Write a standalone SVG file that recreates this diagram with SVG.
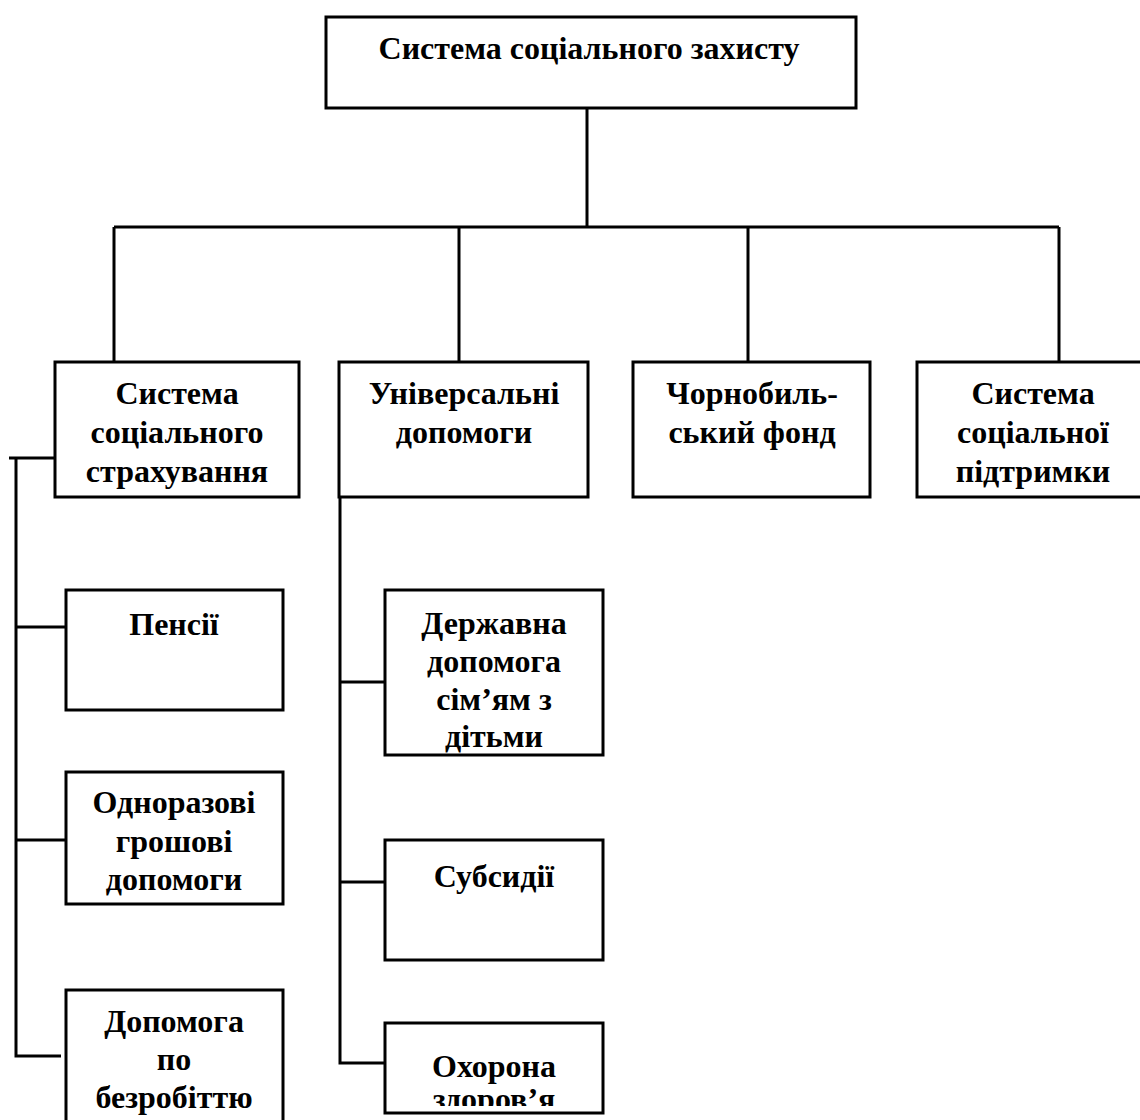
<svg xmlns="http://www.w3.org/2000/svg" width="1140" height="1120" viewBox="0 0 1140 1120">
<style>
.box{fill:#fff;stroke:#000;stroke-width:3}
.ln{stroke:#000;stroke-width:3;fill:none}
.t{font-family:"Liberation Serif","Times New Roman",serif;font-weight:bold;font-size:32px;text-anchor:middle;fill:#000}
</style>
<defs>
<clipPath id="clipOh"><rect x="385" y="1023" width="218" height="83"/></clipPath>
</defs>
<rect width="1140" height="1120" fill="#fff"/>
<g id="connectors">
<path class="ln" d="M587 108V227M114 227H1059M114 227V362M459 227V362M748 227V362M1059 227V362"/>
<path class="ln" d="M9 458H55M16 458V1056H61M16 627H66M16 840H66"/>
<path class="ln" d="M340 497V1063H385M340 682H385M340 882H385"/>
</g>
<g id="n-root">
<rect class="box" x="326" y="17" width="530" height="91"/>
<text class="t" x="589" y="59">Система соціального захисту</text>
</g>
<g id="n-insurance">
<rect class="box" x="55" y="362" width="244" height="135"/>
<text class="t" x="177" y="404">Система</text>
<text class="t" x="177" y="443">соціального</text>
<text class="t" x="177" y="482">страхування</text>
</g>
<g id="n-universal">
<rect class="box" x="339" y="362" width="249" height="135"/>
<text class="t" x="464" y="404">Універсальні</text>
<text class="t" x="464" y="443">допомоги</text>
</g>
<g id="n-chornobyl">
<rect class="box" x="633" y="362" width="237" height="135"/>
<text class="t" x="752" y="404">Чорнобиль-</text>
<text class="t" x="752" y="443">ський фонд</text>
</g>
<g id="n-support">
<rect class="box" x="917" y="362" width="226" height="135"/>
<text class="t" x="1033" y="404">Система</text>
<text class="t" x="1033" y="443">соціальної</text>
<text class="t" x="1033" y="482">підтримки</text>
</g>
<g id="n-pensions">
<rect class="box" x="66" y="590" width="217" height="120"/>
<text class="t" x="174" y="635">Пенсії</text>
</g>
<g id="n-onetime">
<rect class="box" x="66" y="772" width="217" height="132"/>
<text class="t" x="174" y="813">Одноразові</text>
<text class="t" x="174" y="852">грошові</text>
<text class="t" x="174" y="890">допомоги</text>
</g>
<g id="n-unemployment">
<rect class="box" x="66" y="990" width="217" height="140"/>
<text class="t" x="174" y="1032">Допомога</text>
<text class="t" x="174" y="1070">по</text>
<text class="t" x="174" y="1108">безробіттю</text>
</g>
<g id="n-family">
<rect class="box" x="385" y="590" width="218" height="165"/>
<text class="t" x="494" y="634">Державна</text>
<text class="t" x="494" y="672">допомога</text>
<text class="t" x="494" y="710">сім’ям з</text>
<text class="t" x="494" y="747">дітьми</text>
</g>
<g id="n-subsidies">
<rect class="box" x="385" y="840" width="218" height="120"/>
<text class="t" x="494" y="887">Субсидії</text>
</g>
<g id="n-health">
<rect class="box" x="385" y="1023" width="218" height="90"/>
<g clip-path="url(#clipOh)">
<text class="t" x="494" y="1077">Охорона</text>
<text class="t" x="494" y="1110">здоров’я</text>
</g>
</g>
</svg>
